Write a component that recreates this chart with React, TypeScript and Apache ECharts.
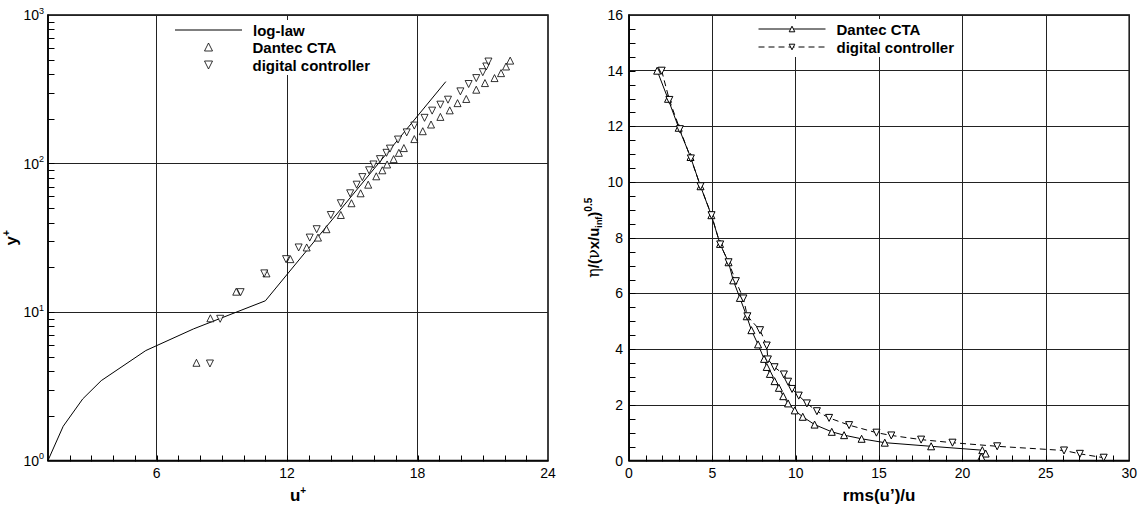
import React, { useEffect, useRef } from "react";
import * as echarts from "echarts";

const FONT = '"Liberation Sans", Arial, Helvetica, sans-serif';
const SYM_FONT = '"DejaVu Serif", "Liberation Serif", serif';

// ---------- left chart data ----------
const logLaw: [number, number][] = [
  [1, 1], [1.7, 1.7], [2.6, 2.6], [3.45, 3.45], [5.5, 5.5], [7.7, 7.7], [11.0, 11.9], [19.3, 356],
];
const leftDantec: [number, number][] = [
  [7.83, 4.55], [8.47, 9.07], [9.66, 13.7], [11.05, 18.2], [12.15, 22.7], [12.9, 27.2], [13.42, 31.7],
  [13.81, 36.1], [14.47, 45], [14.96, 54], [15.38, 63], [15.73, 72], [16.1, 82], [16.38, 90], [16.6, 98.5],
  [16.9, 107], [17.14, 118], [17.37, 127], [17.85, 146], [18.24, 165], [18.62, 183], [19.05, 206],
  [19.48, 228], [19.84, 255], [20.24, 272], [20.7, 314], [21.1, 348], [21.54, 376], [21.84, 406],
  [22.07, 450], [22.26, 493],
];
const leftDigital: [number, number][] = [
  [8.45, 4.5], [8.92, 9.0], [9.86, 13.6], [10.95, 18.2], [11.95, 22.7], [12.53, 27.2], [13.04, 31.7],
  [13.36, 36.1], [14.01, 45], [14.47, 54], [14.9, 63], [15.2, 72], [15.46, 81], [15.77, 90], [15.97, 98.5],
  [16.27, 107], [16.57, 118], [16.73, 126], [17.1, 145], [17.5, 162], [17.85, 180], [18.32, 203],
  [18.67, 227], [19.05, 249], [19.4, 269], [19.97, 306], [20.35, 343], [20.7, 376], [21.0, 412],
  [21.16, 450], [21.26, 486],
];

// ---------- right chart data ----------
const rightDantec: [number, number][] = [
  [1.69, 14.0], [2.34, 12.99], [2.98, 11.95], [3.69, 10.9], [4.29, 9.85], [4.94, 8.81], [5.46, 7.78],
  [5.97, 7.12], [6.25, 6.47], [6.65, 5.84], [7.06, 5.18], [7.34, 4.68], [7.74, 4.17], [8.1, 3.65],
  [8.26, 3.36], [8.45, 3.11], [8.73, 2.85], [8.99, 2.61], [9.25, 2.31], [9.54, 2.05], [9.94, 1.8],
  [10.42, 1.57], [11.13, 1.29], [12.16, 1.03], [12.9, 0.91], [13.95, 0.78], [15.34, 0.64], [18.12, 0.51],
  [21.19, 0.37], [21.39, 0.25], [21.13, 0.13],
];
const rightDigital: [number, number][] = [
  [1.96, 14.0], [2.42, 12.95], [3.05, 11.9], [3.71, 10.85], [4.29, 9.85], [4.95, 8.81], [5.47, 7.76],
  [5.97, 7.12], [6.41, 6.44], [6.86, 5.82], [7.1, 5.18], [7.86, 4.68], [8.26, 4.13], [8.33, 3.63],
  [8.73, 3.35], [9.29, 3.09], [9.54, 2.83], [9.78, 2.57], [10.18, 2.33], [10.67, 2.05], [11.27, 1.77],
  [12.0, 1.53], [13.2, 1.27], [14.84, 1.0], [15.73, 0.9], [17.52, 0.75], [19.4, 0.64], [22.08, 0.51],
  [26.09, 0.36], [27.04, 0.24], [28.47, 0.1],
];

// ---------- ticks ----------
const leftXLabels = [6, 12, 18, 24];
const leftXGrid = [6, 12, 18];
const leftXMinor = [2, 3, 4, 5, 6, 7, 8, 9, 10, 11, 12, 13, 14, 15, 16, 17, 18, 19, 20, 21, 22, 23];
const leftYDecades = [1, 10, 100, 1000];
const leftYExponents = ["0", "1", "2", "3"];
const leftYMinor = [2, 3, 4, 5, 6, 7, 8, 9, 10, 20, 30, 40, 50, 60, 70, 80, 90, 100, 200, 300, 400, 500, 600, 700, 800, 900];
const rightXLabels = [0, 5, 10, 15, 20, 25, 30];
const rightXMinor = [1, 2, 3, 4, 5, 6, 7, 8, 9, 10, 11, 12, 13, 14, 15, 16, 17, 18, 19, 20, 21, 22, 23, 24, 25, 26, 27, 28, 29];
const rightYLabels = [0, 2, 4, 6, 8, 10, 12, 14, 16];
const rightYMinor = [
  0.5, 1, 1.5, 2, 2.5, 3, 3.5, 4, 4.5, 5, 5.5, 6, 6.5, 7, 7.5, 8,
  8.5, 9, 9.5, 10, 10.5, 11, 11.5, 12, 12.5, 13, 13.5, 14, 14.5, 15, 15.5,
];

const legendNames: Record<string, string> = {
  loglaw: "log-law",
  lDantec: "Dantec CTA",
  lDigital: "digital controller",
  rDantec: "Dantec CTA",
  rDigital: "digital controller",
};

const mkAxisLine = () => ({ show: true, onZero: false, lineStyle: { color: "#000", width: 1.5 } });
const mkSplit = () => ({ show: true, lineStyle: { color: "#222", width: 1 } });
const labelBase = { color: "#000", fontFamily: FONT, fontSize: 14 };
const hollow = { color: "#fff", borderColor: "#000", borderWidth: 1 };
const legendText = { fontFamily: FONT, fontWeight: "bold", fontSize: 15, color: "#000", lineHeight: 16 };

const nameRich = {
  b: { fontFamily: FONT, fontWeight: "bold", fontSize: 17, color: "#000", lineHeight: 20 },
  s: { fontFamily: FONT, fontWeight: "bold", fontSize: 10, color: "#000", lineHeight: 10, verticalAlign: "top" },
  g: { fontFamily: SYM_FONT, fontSize: 16, color: "#000", lineHeight: 20 },
  sub: { fontFamily: FONT, fontWeight: "bold", fontSize: 9, color: "#000", lineHeight: 8, verticalAlign: "bottom" },
  sup: { fontFamily: FONT, fontWeight: "bold", fontSize: 10, color: "#000", lineHeight: 10, verticalAlign: "top" },
};

const pick = (list: number[]) => (v: number) => (list.some((t) => Math.abs(t - v) < 1e-6) ? String(v) : "");

function smallLegend(name: string, left: number, top: number, icon: string) {
  return {
    orient: "vertical", left, top, itemWidth: 8, itemHeight: 8,
    padding: [2, 6, 2, 3], backgroundColor: "#fff", selectedMode: false,
    formatter: (n: string) => legendNames[n],
    itemStyle: { color: "#fff", borderColor: "#000", borderWidth: 1 },
    textStyle: { ...legendText, padding: [0, 0, 0, 35] },
    data: [{ name, icon }],
  };
}

function buildOption(): any {
  return {
    animation: false,
    backgroundColor: "#fff",
    grid: [
      { left: 46, top: 15, width: 502, height: 447, show: true, borderColor: "#000", borderWidth: 1.5 },
      { left: 629, top: 15, width: 504, height: 446, show: true, borderColor: "#000", borderWidth: 1.5 },
    ],
    legend: [
      {
        orient: "vertical", left: 172, top: 20, itemWidth: 67, itemHeight: 1,
        padding: [2, 6, 2, 3], backgroundColor: "#fff", selectedMode: false,
        formatter: (n: string) => legendNames[n],
        itemStyle: { color: "#000", borderWidth: 0 },
        textStyle: { ...legendText, padding: [0, 0, 0, 6] },
        data: [{ name: "loglaw", icon: "rect" }],
      },
      smallLegend("lDantec", 201, 37, "triangle"),
      smallLegend("lDigital", 201, 55, "path://M0,0L10,0L5,10Z"),
      {
        orient: "vertical", left: 755, top: 19, itemWidth: 67, itemHeight: 7, itemGap: 2,
        padding: [2, 6, 2, 3], backgroundColor: "#fff", selectedMode: false,
        formatter: (n: string) => legendNames[n],
        lineStyle: { width: 1, color: "#000" },
        itemStyle: { color: "#fff", borderColor: "#000", borderWidth: 1 },
        textStyle: { ...legendText, padding: [0, 0, 0, 6] },
        data: ["rDantec", "rDigital"],
      },
    ],
    xAxis: [
      {
        gridIndex: 0, type: "value", min: 1, max: 24, interval: 1, position: "bottom",
        axisLine: mkAxisLine(), axisTick: { show: false },
        axisLabel: { ...labelBase, margin: 5, formatter: pick(leftXLabels) },
        splitLine: { show: false },
        name: "{b|u}{s|+}", nameLocation: "middle", nameGap: 25,
        nameTextStyle: { rich: nameRich },
      },
      {
        gridIndex: 0, type: "value", min: 1, max: 24, position: "bottom",
        axisLine: { show: false, onZero: false },
        axisTick: { show: false, customValues: leftXGrid },
        axisLabel: { show: false },
        splitLine: mkSplit(),
      },
      {
        gridIndex: 1, type: "value", min: 0, max: 30, interval: 1, position: "bottom",
        axisLine: mkAxisLine(), axisTick: { show: false },
        axisLabel: { ...labelBase, margin: 5, formatter: pick(rightXLabels) },
        splitLine: { show: false },
        name: "{b|rms(u’)/u}", nameLocation: "middle", nameGap: 25,
        nameTextStyle: { rich: nameRich },
      },
      {
        gridIndex: 1, type: "value", min: 0, max: 30, interval: 5, position: "bottom",
        axisLine: { show: false, onZero: false }, axisTick: { show: false }, axisLabel: { show: false },
        splitLine: mkSplit(),
      },
    ],
    yAxis: [
      {
        gridIndex: 0, type: "log", logBase: 10, min: 1, max: 1000, position: "left",
        axisLine: mkAxisLine(), axisTick: { show: false },
        axisLabel: {
          ...labelBase, margin: 4,
          formatter: (v: number) => {
            const i = leftYDecades.indexOf(Math.round(v));
            return "{b|10}{e|" + (i >= 0 ? leftYExponents[i] : "") + "}";
          },
          rich: {
            b: { fontFamily: FONT, fontSize: 14, color: "#000", lineHeight: 18 },
            e: { fontFamily: FONT, fontSize: 9, color: "#000", lineHeight: 9, verticalAlign: "top" },
          },
        },
        splitLine: mkSplit(),
        name: "{b|y}{s|+}", nameLocation: "middle", nameGap: 26, nameRotate: 90,
        nameTextStyle: { rich: nameRich },
      },
      {
        gridIndex: 1, type: "value", min: 0, max: 16, interval: 0.5, position: "left",
        axisLine: mkAxisLine(), axisTick: { show: false },
        axisLabel: { ...labelBase, margin: 6, formatter: pick(rightYLabels) },
        splitLine: { show: false },
        name: "{g|η}{b|/(}{g|ν}{b|x/u}{sub|inf}{b|)}{sup|0.5}", nameLocation: "middle", nameGap: 22, nameRotate: 90,
        nameTextStyle: { rich: { ...nameRich, b: { ...nameRich.b, fontSize: 15 } } },
      },
      {
        gridIndex: 1, type: "value", min: 0, max: 16, interval: 2, position: "left",
        axisLine: { show: false, onZero: false }, axisTick: { show: false }, axisLabel: { show: false },
        splitLine: mkSplit(),
      },
    ],
    series: [
      { name: "loglaw", type: "line", xAxisIndex: 0, yAxisIndex: 0, data: logLaw, symbol: "none",
        lineStyle: { color: "#000", width: 1 }, itemStyle: { color: "#000" }, z: 3 },
      { name: "lDantec", type: "scatter", xAxisIndex: 0, yAxisIndex: 0, data: leftDantec,
        symbol: "triangle", symbolSize: 7, itemStyle: hollow, z: 4 },
      { name: "lDigital", type: "scatter", xAxisIndex: 0, yAxisIndex: 0, data: leftDigital,
        symbol: "triangle", symbolSize: 7, symbolRotate: 180, itemStyle: hollow, z: 4 },
      { name: "rDantec", type: "line", xAxisIndex: 2, yAxisIndex: 1, data: rightDantec,
        symbol: "triangle", symbolSize: 7, showSymbol: true, itemStyle: hollow,
        lineStyle: { color: "#000", width: 1 }, z: 4 },
      { name: "rDigital", type: "line", xAxisIndex: 2, yAxisIndex: 1, data: rightDigital,
        symbol: "triangle", symbolSize: 7, symbolRotate: 180, showSymbol: true, itemStyle: hollow,
        lineStyle: { color: "#000", width: 1, type: [6, 4] }, z: 4 },
    ],
  };
}

// inward tick marks placed with the chart's own axis scales (convertToPixel)
function buildTicks(chart: any): any[] {
  const out: any[] = [];
  const add = (xi: number, yi: number, vals: number[], dir: "x" | "y", fixed: number) => {
    vals.forEach((v) => {
      const pt = chart.convertToPixel({ xAxisIndex: xi, yAxisIndex: yi }, dir === "x" ? [v, fixed] : [fixed, v]);
      if (!pt) return;
      const x = Math.round(pt[0]) + 0.5;
      const y = Math.round(pt[1]) + 0.5;
      out.push({
        type: "line",
        silent: true,
        z: 100,
        shape: dir === "x" ? { x1: x, y1: y, x2: x, y2: y - 6 } : { x1: x, y1: y, x2: x + 6, y2: y },
        style: { stroke: "#000", lineWidth: 1 },
      });
    });
  };
  add(0, 0, leftXMinor, "x", 1);
  add(0, 0, leftYMinor, "y", 1);
  add(2, 1, rightXMinor, "x", 0);
  add(2, 1, rightYMinor, "y", 0);
  return out;
}

export default function App() {
  const ref = useRef<HTMLDivElement>(null);
  useEffect(() => {
    if (!ref.current) return;
    const chart = echarts.init(ref.current, undefined, { renderer: "svg" });
    chart.setOption(buildOption());
    try {
      chart.setOption({ graphic: { elements: buildTicks(chart) } });
    } catch (e) {
      // ignore
    }
    return () => chart.dispose();
  }, []);
  return (
    <div ref={ref} style={{ position: "fixed", left: 0, top: 0, width: 1140, height: 509, background: "#fff" }} />
  );
}
